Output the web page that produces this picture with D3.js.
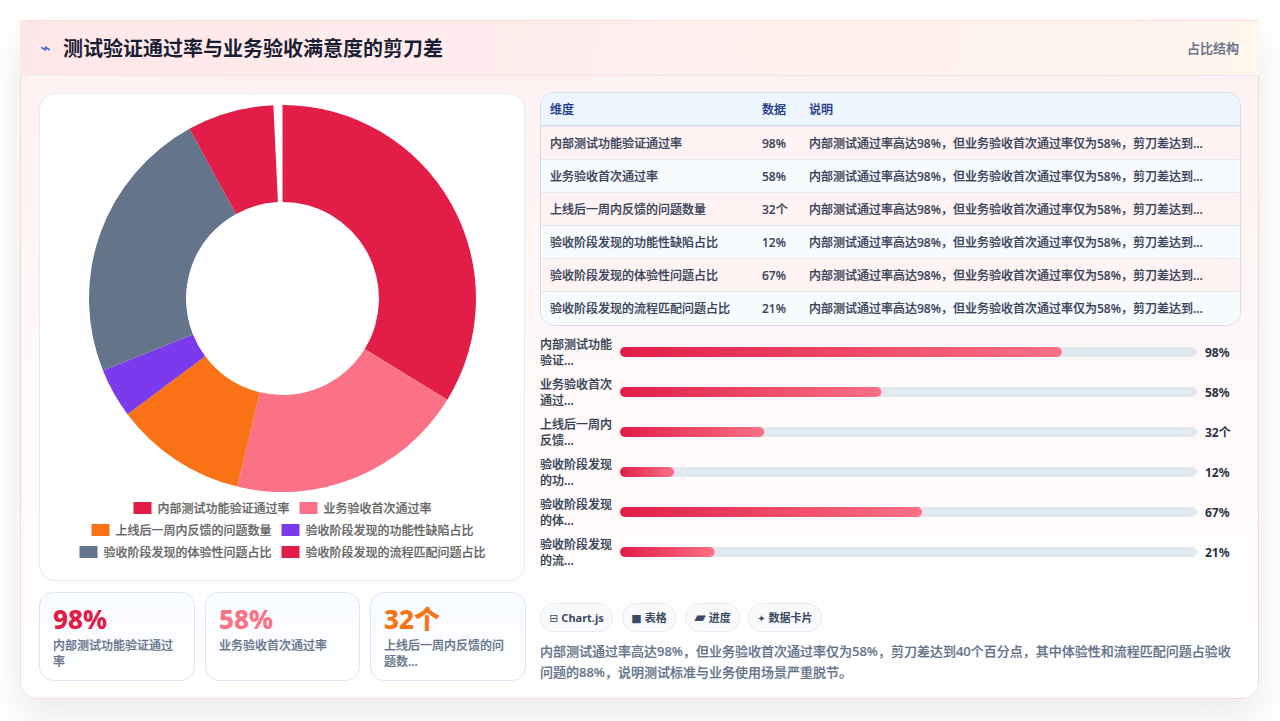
<!DOCTYPE html>
<html lang="zh-CN">
<head>
<meta charset="utf-8">
<script src="https://cdn.jsdelivr.net/npm/d3@7/dist/d3.min.js"></script>
<style>
* { box-sizing: border-box; margin: 0; padding: 0; }
html, body { width: 1280px; height: 721px; overflow: hidden; }
body { background: #ffffff; font-family: "Noto Sans", "Noto Sans CJK SC", sans-serif; position: relative; }
.card { position: absolute; left: 20px; top: 20px; width: 1239px; height: 679px; border-radius: 16px; border: 1px solid #f7d9dd;
  background: linear-gradient(180deg, #fff0f0 0%, #fff6f6 35%, #ffffff 100%); box-shadow: 0 16px 40px rgba(0,0,0,.09); }
.head { position: absolute; left: -1px; top: -1px; right: -1px; height: 56px; border-radius: 3px 3px 0 0; background: linear-gradient(100deg, #ffe7e8 0%, #fff0ee 60%, #fff6ec 100%); border-bottom: 1px solid #e9e7f1; border-top: 1px solid #fbd9dc; }
.head h1 { position: absolute; left: 43px; top: 13px; font-size: 20px; line-height: 28px; font-weight: 700; color: #1a1e35; font-family: "Noto Sans CJK SC"; }
.head .ic { position: absolute; left: 20px; top: 13px; font-size: 18px; line-height: 28px; color: #3b5bdb; font-family: "DejaVu Sans"; }
.head .tag { position: absolute; right: 20px; top: 17px; font-size: 13px; line-height: 20px; font-weight: 500; color: #64708a; -webkit-text-stroke: .2px #64708a; }
.panel { position: absolute; left: 18px; top: 72px; width: 486px; height: 488px; background: #fff; border: 1px solid #e7ebf3; border-radius: 16px; }
.panel svg { position: absolute; left: 0; top: 0; }
.kpi { position: absolute; top: 571px; height: 89px; border: 1px solid #dbe7f3; border-radius: 14px; background: linear-gradient(180deg, #f8fbff, #ffffff); }
.kpi b { position: absolute; left: 13px; top: 8px; font-size: 26px; line-height: 36px; font-weight: 800; }
.kpi span { position: absolute; left: 13px; top: 45px; width: 128px; font-size: 12px; line-height: 16px; font-weight: 500; color: #64748b; -webkit-text-stroke: .2px #64748b; }
.tbl { position: absolute; left: 519px; top: 71px; width: 701px; height: 234px; border: 1px solid #d4dcec; border-radius: 14px; overflow: hidden; background: #fff; }
.row { position: absolute; left: 0; right: 0; height: 33px; border-top: 1px solid #e3e8f1; font-size: 12px; line-height: 33px; color: #39445a; font-weight: 500; white-space: nowrap; -webkit-text-stroke: .2px #39445a; }
.row.h { top: 0; height: 33px; border-top: 0; background: #edf5ff; color: #1e3a8a; border-bottom: 1px solid #d4dcec; font-weight: 500; line-height: 34px; -webkit-text-stroke: .2px #1e3a8a; }
.row div { position: absolute; top: 0; }
#bars { position: absolute; left: 519px; top: 311px; }
.pills { position: absolute; left: 519px; top: 582px; height: 29px; }
.pill { position: absolute; top: 0; height: 29px; border: 1px solid #e6ebf2; border-radius: 15px; background: #f8fafc; font-size: 11px; line-height: 27px; font-weight: 700; color: #3c4a60; text-align: center; white-space: nowrap; }
.note { position: absolute; left: 519px; top: 620px; width: 700px; font-size: 13px; line-height: 21px; font-weight: 500; color: #64748b; white-space: nowrap; -webkit-text-stroke: .2px #64748b; }
</style>
</head>
<body>
<div class="card">
  <div class="head"><span class="ic">⌁</span><h1 id="title"></h1><span class="tag" id="tag"></span></div>
  <div class="panel" id="panel"></div>
  <div id="kpis"></div>
  <div class="tbl" id="tbl"></div>
  <svg id="bars" width="700" height="250"></svg>
  <div class="pills" id="pills"></div>
  <div class="note" id="note"></div>
</div>
<script>
const titleText = "测试验证通过率与业务验收满意度的剪刀差";
const tagText = "占比结构";
const categories = ["内部测试功能验证通过率", "业务验收首次通过率", "上线后一周内反馈的问题数量", "验收阶段发现的功能性缺陷占比", "验收阶段发现的体验性问题占比", "验收阶段发现的流程匹配问题占比"];
const values = [98, 58, 32, 12, 67, 21];
const valueLabels = ["98%", "58%", "32个", "12%", "67%", "21%"];
const colors = ["#e11d48", "#fb7185", "#f97316", "#7c3aed", "#64748b", "#e11d48"];
const barNames = [["内部测试功能", "验证..."], ["业务验收首次", "通过..."], ["上线后一周内", "反馈..."], ["验收阶段发现", "的功..."], ["验收阶段发现", "的体..."], ["验收阶段发现", "的流..."]];
const kpiNames = [["内部测试功能验证通过", "率"], ["业务验收首次通过率"], ["上线后一周内反馈的问", "题数..."]];
const legendRows = [[0, 1], [2, 3], [4, 5]];
const tableHeader = ["维度", "数据", "说明"];
const rowNote = "内部测试通过率高达98%，但业务验收首次通过率仅为58%，剪刀差达到...";
const pillIcons = ["⊟", "■", "▰", "✦"];
const pillTexts = ["Chart.js", "表格", "进度", "数据卡片"];
const noteLines = ["内部测试通过率高达98%，但业务验收首次通过率仅为58%，剪刀差达到40个百分点，其中体验性和流程匹配问题占验收", "问题的88%，说明测试标准与业务使用场景严重脱节。"];

d3.select("#title").text(titleText);
d3.select("#tag").text(tagText);

// Donut: the sweep stops just short of a full turn, leaving a small gap at twelve o'clock.
const panel = d3.select("#panel").append("svg").attr("width", 486).attr("height", 488);
const donut = panel.append("g").attr("transform", "translate(242.5,204.5)");
const pie = d3.pie().sort(null).startAngle(0).endAngle(2 * Math.PI * 0.9925);
const arc = d3.arc().innerRadius(96.5).outerRadius(193.5);
donut.selectAll("path").data(pie(values)).join("path")
  .attr("d", arc).attr("fill", (d, i) => colors[i]);

// Legend: three centred rows of swatch + label
const legendTop = [414, 436, 458];
const ctx = document.createElement("canvas").getContext("2d");
ctx.font = '500 12px "Noto Sans CJK SC"';
legendRows.forEach((row, r) => {
  const widths = row.map(i => 18 + 6 + ctx.measureText(categories[i]).width);
  const total = d3.sum(widths) + 10;
  let x = 242.5 - total / 2;
  row.forEach((i, k) => {
    panel.append("rect").attr("x", x).attr("y", legendTop[r] - 6).attr("width", 18).attr("height", 12).attr("fill", colors[i]);
    panel.append("text").attr("x", x + 24).attr("y", legendTop[r] + 4.5).attr("font-size", 12).attr("font-weight", 500)
      .attr("fill", "#666").attr("stroke", "#666").attr("stroke-width", 0.2).text(categories[i]);
    x += widths[k] + 10;
  });
});

// KPI cards
const kpiX = [18, 184, 349], kpiW = [156, 155, 156];
d3.select("#kpis").selectAll("div").data(kpiNames).join("div").attr("class", "kpi")
  .style("left", (d, i) => kpiX[i] + "px").style("width", (d, i) => kpiW[i] + "px")
  .each(function (d, i) {
    const c = d3.select(this);
    c.append("b").style("color", colors[i]).text(valueLabels[i]);
    c.append("span").html(d.join("<br>"));
  });

// Table
const tbl = d3.select("#tbl");
const colX = [9, 221, 268];
const hr = tbl.append("div").attr("class", "row h");
tableHeader.forEach((t, i) => hr.append("div").style("left", colX[i] + "px").text(t));
const rowBg = ["#fff3f4", "#f8fbfe"];
categories.forEach((c, r) => {
  const row = tbl.append("div").attr("class", "row").style("top", 33 + r * 33 + "px").style("background", rowBg[r % 2]);
  [c, valueLabels[r], rowNote].forEach((t, i) => row.append("div").style("left", colX[i] + "px").text(t));
});

// Progress bars
const bars = d3.select("#bars");
const defs = bars.append("defs");
const x = d3.scaleLinear().domain([0, 128]).range([0, 577]);
const y = d3.scaleBand().domain(d3.range(values.length)).range([0, 240]);
const rows = bars.selectAll("g").data(values).join("g").attr("transform", (d, i) => `translate(0,${y(i)})`);
rows.append("rect").attr("x", 80).attr("y", 15).attr("width", 577).attr("height", 10).attr("rx", 5).attr("fill", "#e2e8f0");
rows.each(function (v, i) {
  const g = d3.select(this);
  const lg = defs.append("linearGradient").attr("id", "fill" + i);
  lg.append("stop").attr("offset", 0).attr("stop-color", "#e11d48");
  lg.append("stop").attr("offset", 1).attr("stop-color", "#fb7185");
  g.append("rect").attr("x", 80).attr("y", 15).attr("width", x(v)).attr("height", 10).attr("rx", 5).attr("fill", `url(#fill${i})`);
  barNames[i].forEach((t, k) => g.append("text").attr("x", 0).attr("y", 17 + k * 16).attr("font-size", 12).attr("font-weight", 500)
    .attr("fill", "#334155").attr("stroke", "#334155").attr("stroke-width", 0.2).text(t));
  g.append("text").attr("x", 665).attr("y", 24.5).attr("font-size", 12).attr("font-weight", 700).attr("fill", "#27324a").text(valueLabels[i]);
});

// Pills: small icon glyph followed by the label
const pillX = [0, 82, 145, 208], pillW = [73, 54, 55, 74], pillIconSize = [11, 11, 15, 10];
d3.select("#pills").selectAll("div").data(pillTexts).join("div").attr("class", "pill")
  .style("left", (d, i) => pillX[i] + "px").style("width", (d, i) => pillW[i] + "px")
  .each(function (d, i) {
    const p = d3.select(this);
    p.append("span").style("font-size", pillIconSize[i] + "px").style("font-family", '"DejaVu Sans"').style("font-weight", 400).text(pillIcons[i]);
    p.append("span").text(" " + d);
  });

d3.select("#note").html(noteLines.join("<br>"));
</script>
</body>
</html>
